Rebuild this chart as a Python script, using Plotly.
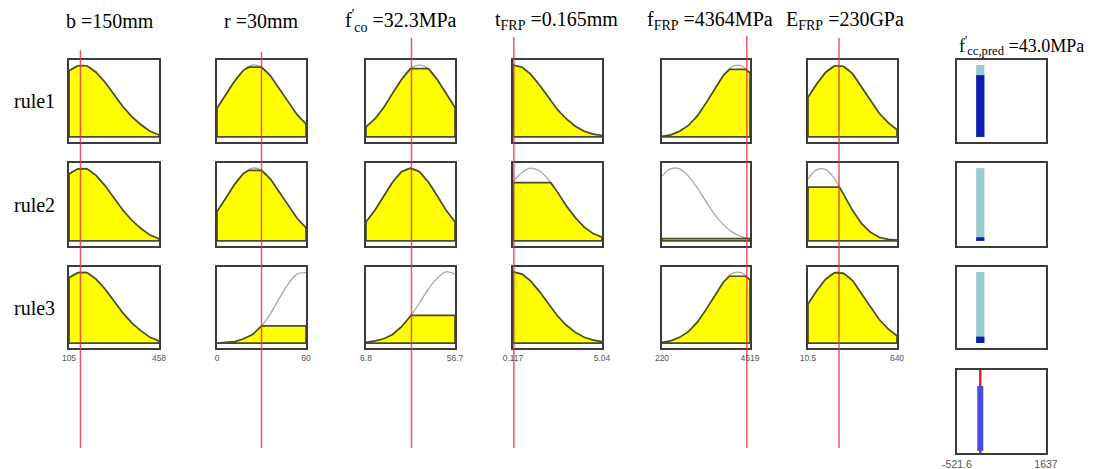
import numpy as np
import plotly.graph_objects as go

# fuzzy rule viewer: 6 inputs, 3 rules, sugeno output

# membership curves, 11 samples across each input range
b_mf = [0.92, 0.99, 0.99, 0.90, 0.76, 0.59, 0.42, 0.28, 0.17, 0.08, 0.03]
r_mf_mid = [0.40, 0.59, 0.78, 0.93, 1.00, 0.97, 0.85, 0.67, 0.48, 0.31, 0.18]
r_mf_high = [0.00, 0.01, 0.02, 0.06, 0.12, 0.24, 0.41, 0.63, 0.83, 0.97, 0.99]
fco_mf1 = [0.14, 0.25, 0.41, 0.61, 0.80, 0.95, 1.00, 0.95, 0.80, 0.61, 0.41]
fco_mf2 = [0.26, 0.42, 0.62, 0.81, 0.95, 1.00, 0.95, 0.81, 0.62, 0.42, 0.26]
fco_mf3 = [0.01, 0.03, 0.06, 0.12, 0.23, 0.38, 0.56, 0.76, 0.91, 1.00, 0.97]
t_mf1 = [1.00, 0.97, 0.87, 0.72, 0.55, 0.38, 0.25, 0.15, 0.08, 0.04, 0.02]
t_mf2 = [0.81, 0.94, 1.00, 0.96, 0.84, 0.67, 0.48, 0.32, 0.19, 0.10, 0.05]
f_mf1 = [0.01, 0.03, 0.08, 0.16, 0.29, 0.47, 0.67, 0.86, 0.98, 0.99, 0.89]
f_mf2 = [0.89, 0.99, 0.99, 0.89, 0.73, 0.54, 0.36, 0.22, 0.12, 0.06, 0.03]
e_mf1 = [0.55, 0.74, 0.90, 0.99, 0.98, 0.88, 0.70, 0.51, 0.33, 0.20, 0.10]
e_mf2 = [0.85, 0.98, 0.98, 0.85, 0.64, 0.42, 0.24, 0.12, 0.05, 0.02, 0.01]

rule1_mfs = [b_mf, r_mf_mid, fco_mf1, t_mf1, f_mf1, e_mf1]
rule2_mfs = [b_mf, r_mf_mid, fco_mf2, t_mf2, f_mf2, e_mf2]
rule3_mfs = [b_mf, r_mf_high, fco_mf3, t_mf1, f_mf1, e_mf1]

# membership degree of the current input in each rule
rule1_levels = [1.00, 0.97, 0.95, 1.00, 0.94, 1.00]
rule2_levels = [1.00, 0.97, 1.00, 0.80, 0.03, 0.74]
rule3_levels = [1.00, 0.24, 0.39, 1.00, 0.94, 1.00]

input_names = ["b =150mm", "r =30mm", "f<sup>'</sup><sub>co</sub> =32.3MPa",
               "t<sub>FRP</sub> =0.165mm", "f<sub>FRP</sub> =4364MPa", "E<sub>FRP</sub> =230GPa"]
input_values = [150, 30, 32.3, 0.165, 4364, 230]
input_lo = [105, 0, 6.8, 0.117, 220, 10.5]
input_hi = [458, 60, 56.7, 5.04, 4519, 640]
lo_labels = ["105", "0", "6.8", "0.117", "220", "10.5"]
hi_labels = ["458", "60", "56.7", "5.04", "4519", "640"]

output_name = "f<sup>'</sup><sub>cc,pred</sub> =43.0MPa"
output_lo, output_hi = -521.6, 1637
output_value = 43.0
rule_outputs = [43.0, 43.0, 43.0]
rule_weights = [0.86, 0.05, 0.09]
aggregate_height = 0.85

rule_names = ["rule1", "rule2", "rule3"]

# page body has an 8px margin, so the figure is laid out in window pixels minus 8
OFF = 8
W, H = 1091, 461
col_px = [(69, 159), (217, 306), (366, 455), (513, 602), (662, 750), (808, 897), (957, 1046)]
row_px = [(60, 142), (163, 246), (267, 348), (370, 453)]
title_px = [110, 261, 401, 556, 710, 845]
red_top = [50, 52, 38, 37, 36, 38]

YELLOW = "#ffff00"
OLIVE = "#4c4c26"
GREY = "#aaaa98"
BOX = "#3c3c3c"


def px_x(X):
    return (X - OFF) / W


def px_y(Y):
    return 1 - (Y - OFF) / H


def clip(xs, ys, level):
    # polygon under min(curve, level), closed along y=0
    px, py = [], []
    for i in range(len(xs)):
        if i > 0 and (ys[i - 1] - level) * (ys[i] - level) < 0:
            f = (level - ys[i - 1]) / (ys[i] - ys[i - 1])
            px.append(xs[i - 1] + f * (xs[i] - xs[i - 1]))
            py.append(level)
        px.append(xs[i])
        py.append(min(ys[i], level))
    return [xs[0]] + px + [xs[-1], xs[0]], [0] + py + [0, 0]


fig = go.Figure()
layout = {}


def add_axes(k, col, row, xr, ticks=None, tsize=8.5):
    x0, x1 = col_px[col]
    y0, y1 = row_px[row]
    ax = dict(domain=[px_x(x0), px_x(x1)], range=xr, showgrid=False, zeroline=False,
              showline=True, mirror=True, linecolor=BOX, linewidth=1.5, automargin=False,
              showticklabels=False, ticks="", fixedrange=True, anchor="y%d" % k)
    if ticks:
        ax.update(showticklabels=True, tickvals=ticks[0], ticktext=ticks[1],
                  tickfont=dict(family="Liberation Sans", size=tsize, color="#555"),
                  ticklabelstandoff=1)
    layout["xaxis%d" % k] = ax
    layout["yaxis%d" % k] = dict(domain=[px_y(y1), px_y(y0)], range=[-0.07, 1.07],
                                 showgrid=False, zeroline=False, showline=True, mirror=True,
                                 linecolor=BOX, linewidth=1.5, showticklabels=False,
                                 automargin=False, ticks="", fixedrange=True,
                                 anchor="x%d" % k)


all_mfs = [rule1_mfs, rule2_mfs, rule3_mfs]
all_levels = [rule1_levels, rule2_levels, rule3_levels]

k = 0
for r in range(3):
    for c in range(6):
        k += 1
        xs = list(np.linspace(input_lo[c], input_hi[c], len(b_mf)))
        ys = all_mfs[r][c]
        ticks = None
        if r == 2:
            ticks = ([input_lo[c], input_hi[c]], [lo_labels[c], hi_labels[c]])
        add_axes(k, c, r, [input_lo[c], input_hi[c]], ticks)
        ax = dict(xaxis="x%d" % k, yaxis="y%d" % k)
        fig.add_scatter(x=xs, y=ys, mode="lines", line=dict(color=GREY, width=1.3, shape="spline"),
                        hoverinfo="skip", **ax)
        fx, fy = clip(xs, ys, all_levels[r][c])
        fig.add_scatter(x=fx, y=fy, mode="lines", fill="toself", fillcolor=YELLOW,
                        line=dict(color=OLIVE, width=1.7), hoverinfo="skip", **ax)
    # rule output
    k += 1
    add_axes(k, 6, r, [output_lo, output_hi])
    ax = dict(xaxis="x%d" % k, yaxis="y%d" % k)
    fig.add_bar(x=[rule_outputs[r]], y=[1.0], width=200, marker=dict(color="#99cccc", line_width=0),
                hoverinfo="skip", **ax)
    fig.add_bar(x=[rule_outputs[r]], y=[rule_weights[r]], width=200,
                marker=dict(color="#0f1cb0", line_width=0), hoverinfo="skip", **ax)

# aggregated output
k += 1
add_axes(k, 6, 3, [output_lo, output_hi], ([output_lo, output_hi], ["-521.6", "1637"]), 10.5)
ax = dict(xaxis="x%d" % k, yaxis="y%d" % k)
fig.add_scatter(x=[output_value, output_value], y=[-0.07, 1.07], mode="lines",
                line=dict(color="#e0202a", width=2.5), hoverinfo="skip", **ax)
fig.add_scatter(x=[output_value, output_value], y=[-0.04, aggregate_height], mode="lines",
                line=dict(color="#4a4ae0", width=6), hoverinfo="skip", **ax)

# red input lines across all rules
shapes = []
for c in range(6):
    shapes.append(dict(type="line", xref="x%d" % (c + 1), yref="paper",
                       x0=input_values[c], x1=input_values[c],
                       y0=px_y(448), y1=px_y(red_top[c]),
                       line=dict(color="rgba(222,50,70,0.8)", width=1.5)))

annotations = []
for c in range(6):
    annotations.append(dict(text=input_names[c], x=px_x(title_px[c]), y=px_y(21),
                            xref="paper", yref="paper", showarrow=False,
                            xanchor="center", yanchor="middle",
                            font=dict(family="Liberation Serif", size=20, color="black")))
annotations.append(dict(text=output_name, x=px_x(1021), y=px_y(45), xref="paper", yref="paper",
                        showarrow=False, xanchor="center", yanchor="middle",
                        font=dict(family="Liberation Serif", size=18, color="black")))
for r in range(3):
    yc = (row_px[r][0] + row_px[r][1]) / 2
    annotations.append(dict(text=rule_names[r], x=px_x(34), y=px_y(yc), xref="paper", yref="paper",
                            showarrow=False, xanchor="center", yanchor="middle",
                            font=dict(family="Liberation Serif", size=20, color="black")))

fig.update_layout(**layout)
fig.update_layout(width=W, height=H, margin=dict(l=0, r=0, t=0, b=0, autoexpand=False),
                  paper_bgcolor="white", plot_bgcolor="white", showlegend=False,
                  barmode="overlay", shapes=shapes, annotations=annotations)

fig.write_html("out.html")
